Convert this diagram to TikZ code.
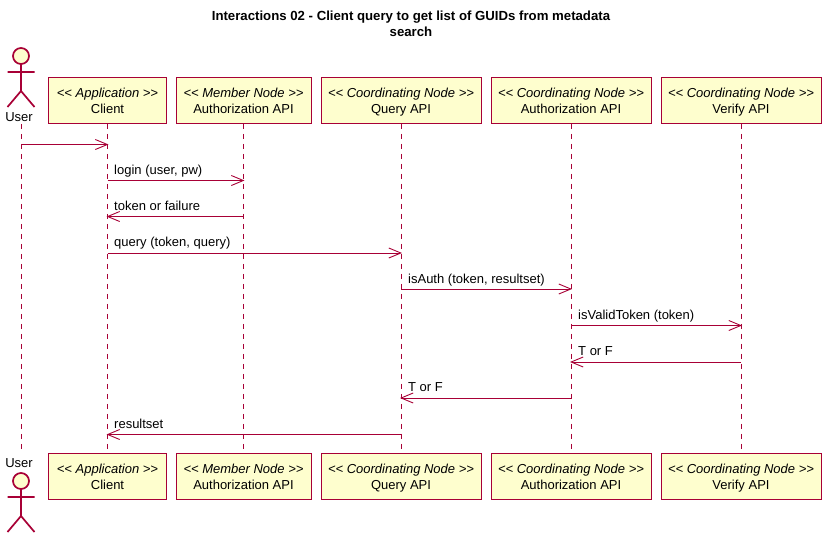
\documentclass[tikz,border=0pt]{standalone}
\usepackage{fontspec}
\setmainfont{Liberation Sans}
\usetikzlibrary{arrows.meta}
\definecolor{pu}{HTML}{A80036}
\definecolor{bg}{HTML}{FEFECE}
\newcommand{\twolines}[2]{\rule{0pt}{13.4pt}\vphantom{Ag}\textit{<{}< #1 >{}>}\\\vphantom{Ag}#2}
\tikzset{
  part/.style={draw=pu,fill=bg,line width=0.9pt,minimum height=46pt,inner sep=0pt,align=center,font=\fontsize{13}{16}\selectfont},
  life/.style={draw=pu,line width=0.9pt,dash pattern=on 5pt off 5pt},
  msg/.style={draw=pu,line width=0.9pt,-{Straight Barb[length=12pt,width=10pt,line width=0.9pt]},shorten >=-1pt},
  lab/.style={font=\fontsize{13}{15}\selectfont,anchor=base west,inner sep=0pt},
  actorname/.style={font=\fontsize{13}{15}\selectfont,inner sep=0pt,anchor=base},
  actorline/.style={draw=pu,line width=1.7pt},
}
\newcommand{\stickman}[2]{%
  \draw[actorline,fill=bg] (#1,#2) circle (8);
  \draw[actorline] (#1,#2+8) -- (#1,#2+35) (#1-13.5,#2+16) -- (#1+13.5,#2+16)
    (#1-13.5,#2+51) -- (#1,#2+35) -- (#1+13.5,#2+51);}
\begin{document}
\begin{tikzpicture}[x=1pt,y=-1pt]
\useasboundingbox (0,0) rectangle (827,533);
\fill[white] (0,0) rectangle (827,533);
\node[font=\bfseries\fontsize{13.2}{16}\selectfont,align=center,inner sep=0pt] (title) at (411,23.5) {Interactions 02 - Client query to get list of GUIDs from metadata\\search};
% participants top
\node[part,minimum width=118pt] (c1) at (107.5,100.5) {\twolines{Application}{Client}};
\node[part,minimum width=135pt] (m1) at (243.5,100.5) {\twolines{Member Node}{Authorization API}};
\node[part,minimum width=160pt] (q1) at (401,100.5) {\twolines{Coordinating Node}{Query API}};
\node[part,minimum width=160pt] (a1) at (571,100.5) {\twolines{Coordinating Node}{Authorization API}};
\node[part,minimum width=160pt] (v1) at (741,100.5) {\twolines{Coordinating Node}{Verify API}};
% participants bottom
\node[part,minimum width=118pt] (c2) at (107.5,476.5) {\twolines{Application}{Client}};
\node[part,minimum width=135pt] (m2) at (243.5,476.5) {\twolines{Member Node}{Authorization API}};
\node[part,minimum width=160pt] (q2) at (401,476.5) {\twolines{Coordinating Node}{Query API}};
\node[part,minimum width=160pt] (a2) at (571,476.5) {\twolines{Coordinating Node}{Authorization API}};
\node[part,minimum width=160pt] (v2) at (741,476.5) {\twolines{Coordinating Node}{Verify API}};
% actors
\stickman{21}{56}
\stickman{21}{481}
\node[actorname] (u1) at (19,121) {User};
\node[actorname] (u2) at (19,467) {User};
\coordinate (ut) at (21.5,124);
\coordinate (ub) at (21.5,450);
% lifelines
\draw[life] (ut) -- (ub);
\draw[life] (c1) -- (c2);
\draw[life] (m1) -- (m2);
\draw[life] (q1) -- (q2);
\draw[life] (a1) -- (a2);
\draw[life] (v1) -- (v2);
% messages
\draw[msg] (ut |- 0,144.5) -- (c1 |- 0,144.5);
\draw[msg] (c1 |- 0,180.5) -- (m1 |- 0,180.5);
\draw[msg] (m1 |- 0,216.5) -- (c1 |- 0,216.5);
\draw[msg] (c1 |- 0,253) -- (q1 |- 0,253);
\draw[msg] (q1 |- 0,289) -- (a1 |- 0,289);
\draw[msg] (a1 |- 0,325.5) -- (v1 |- 0,325.5);
\draw[msg] (v1 |- 0,362) -- (a1 |- 0,362);
\draw[msg] (a1 |- 0,398) -- (q1 |- 0,398);
\draw[msg] (q1 |- 0,434.5) -- (c1 |- 0,434.5);
% labels
\node[lab] (l1) at (114,174) {login (user, pw)};
\node[lab] (l2) at (114,210) {token or failure};
\node[lab] (l3) at (114,246.5) {query (token, query)};
\node[lab] (l4) at (408,283) {isAuth (token, resultset)};
\node[lab] (l5) at (578,319.5) {isValidToken (token)};
\node[lab] (l6) at (578,355.5) {T or F};
\node[lab] (l7) at (408,391.5) {T or F};
\node[lab] (l8) at (114,428) {resultset};
\end{tikzpicture}
\end{document}
